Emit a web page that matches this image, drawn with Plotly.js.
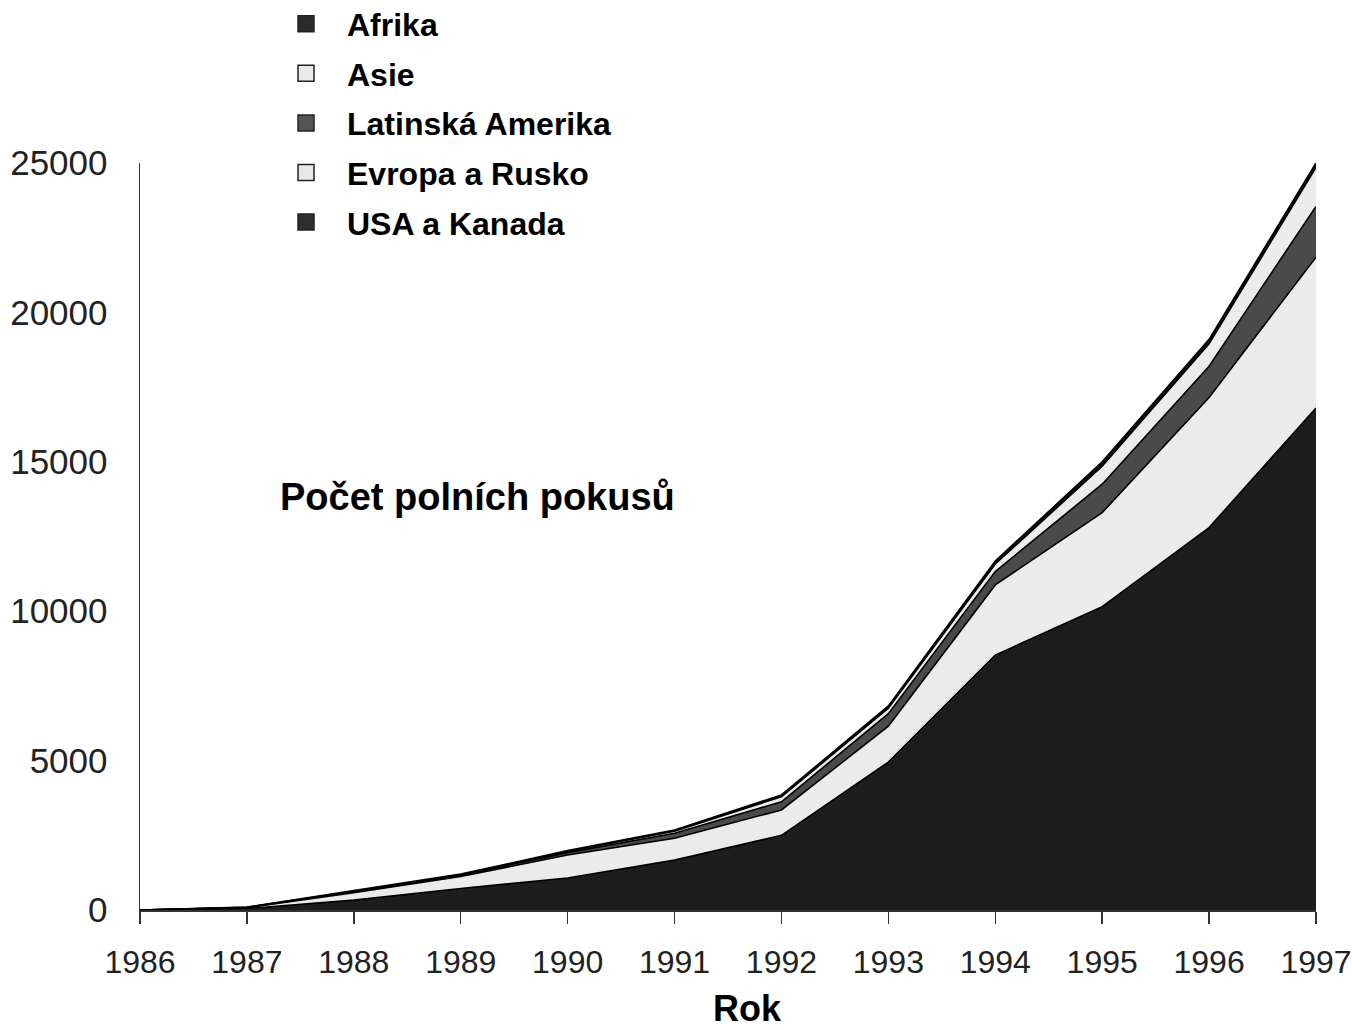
<!DOCTYPE html>
<html>
<head>
<meta charset="utf-8">
<script src="https://cdn.plot.ly/plotly-3.0.1.min.js"></script>
<style>html,body{margin:0;padding:0;background:#fff;}#chart{width:1352px;height:1030px;}</style>
</head>
<body>
<div id="chart"></div>
<script>
const years = [1986, 1987, 1988, 1989, 1990, 1991, 1992, 1993, 1994, 1995, 1996, 1997];
const usaKanada      = [0, 50, 330, 720, 1070, 1670, 2500, 4950, 8530, 10150, 12800, 16800];
const evropaRusko    = [0, 30, 250, 400, 770, 730, 850, 1200, 2350, 3150, 4350, 5050];
const latinskaAmerika= [0, 5, 30, 40, 80, 170, 270, 420, 450, 950, 1050, 1700];
const asie           = [0, 5, 20, 20, 40, 70, 170, 180, 250, 600, 750, 1300];
const afrika         = [0, 5, 20, 20, 30, 40, 60, 80, 100, 150, 150, 150];
const yTicks = [0, 5000, 10000, 15000, 20000, 25000];

const seriesNames = ["USA a Kanada", "Evropa a Rusko", "Latinská Amerika", "Asie", "Afrika"];
const seriesValues = [usaKanada, evropaRusko, latinskaAmerika, asie, afrika];
const fillColors = ["#1d1d1d", "#ebebeb", "#4a4a4a", "#ececec", "#111111"];
const swatchColors = ["#2e2e2e", "#e8e8e8", "#555555", "#eaeaea", "#2a2a2a"];

const traces = [];
seriesNames.forEach((name, i) => {
  traces.push({
    type: "scatter", mode: "lines", x: years, y: seriesValues[i],
    stackgroup: "one", name: name, showlegend: false,
    fillcolor: fillColors[i],
    line: {color: "#000", width: 1.6, shape: "linear"},
    hoverinfo: "x+y+name"
  });
});
for (let i = seriesNames.length - 1; i >= 0; i--) {
  traces.push({
    type: "scatter", mode: "markers", x: [null], y: [null],
    name: seriesNames[i], showlegend: true, legendgroup: "g" + i,
    marker: {symbol: "square", size: 24, color: swatchColors[i], line: {color: "#222", width: 1.5}}
  });
}

const layout = {
  width: 1352, height: 1030,
  paper_bgcolor: "#fff", plot_bgcolor: "#fff",
  margin: {l: 140, r: 36, t: 163, b: 120, autoexpand: false},
  font: {family: "Liberation Sans, Arial, sans-serif", color: "#222"},
  showlegend: true,
  legend: {
    x: 0.1063, y: 1.223, xanchor: "left", yanchor: "top",
    traceorder: "grouped", tracegroupgap: 5,
    font: {size: 32, color: "#000", family: "Liberation Sans, Arial, sans-serif", weight: "bold"},
    bgcolor: "rgba(0,0,0,0)", itemwidth: 72
  },
  xaxis: {
    range: [1986, 1997], tickmode: "array", tickvals: years, ticktext: years.map(String),
    showgrid: false, zeroline: false, showline: true, linecolor: "#333", linewidth: 1.5,
    ticks: "outside", ticklen: 12, tickcolor: "#333", tickwidth: 1.5,
    tickfont: {size: 32, color: "#222"}, ticklabelstandoff: 11, ticklabeloverflow: "allow",
    fixedrange: true
  },
  yaxis: {
    range: [0, 25000], tickmode: "array", tickvals: yTicks, ticktext: yTicks.map(String),
    showgrid: false, zeroline: false, showline: true, linecolor: "#333", linewidth: 1.5,
    ticks: "", tickfont: {size: 35, color: "#222"}, ticklabelstandoff: 24,
    fixedrange: true
  },
  annotations: [
    {text: "<b>Počet polních pokusů</b>", xref: "paper", yref: "paper",
     x: 0.287, y: 0.553, xanchor: "center", yanchor: "middle", showarrow: false,
     font: {size: 38, color: "#000"}},
    {text: "<b>Rok</b>", xref: "paper", yref: "paper",
     x: 0.517, y: -0.132, xanchor: "center", yanchor: "middle", showarrow: false,
     font: {size: 36, color: "#000"}}
  ]
};

Plotly.newPlot("chart", traces, layout, {displayModeBar: false, staticPlot: true});
</script>
</body>
</html>
